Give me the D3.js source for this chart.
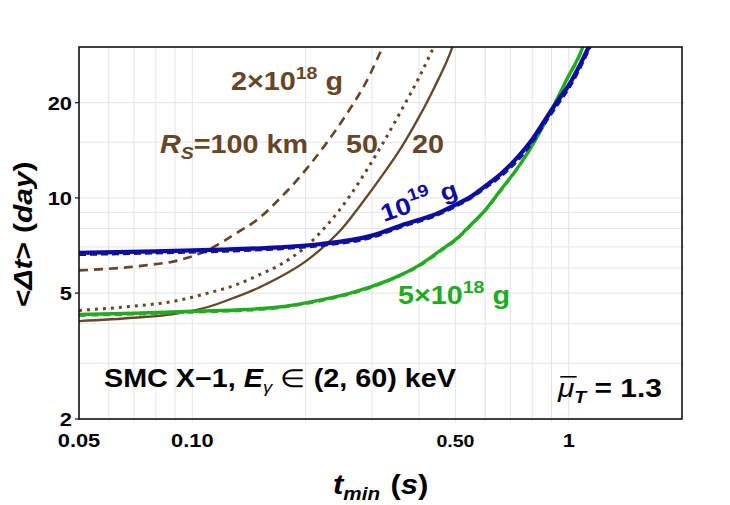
<!DOCTYPE html>
<html>
<head>
<meta charset="UTF-8">
<script src="https://cdnjs.cloudflare.com/ajax/libs/d3/7.8.5/d3.min.js"></script>
<style>
  body { margin: 0; background: #fff; }
  text { font-family: "Liberation Sans", Arial, sans-serif; font-weight: bold; }
</style>
</head>
<body>
<svg id="chart" width="730" height="505"></svg>
<script>
// axis ticks and grid
const xTicks = [0.05, 0.1, 0.5, 1];
const xTickLabels = ["0.05", "0.10", "0.50", "1"];
const yTicks = [2, 5, 10, 20];
const yTickLabels = ["2", "5", "10", "20"];
const xGrid = [0.06, 0.07, 0.08, 0.09, 0.1, 0.2, 0.3, 0.4, 0.5, 0.6, 0.7, 0.8, 0.9, 1];
const yGrid = [3, 4, 5, 6, 7, 8, 9, 10, 15, 20];

// 2e18 g curves, R_S = 100 / 50 / 20 km  [t_min (s), <dt> (day)]
const rs100 = [[0.05,5.9],[0.075,6.12],[0.092,6.35],[0.111,6.88],[0.13,7.7],[0.15,8.6],[0.17,9.9],
  [0.19,11.4],[0.206,12.8],[0.23,15.2],[0.263,19.2],[0.29,23.3],[0.32,29.8],[0.33,32]];
const rs50 = [[0.05,4.41],[0.07,4.55],[0.09,4.72],[0.11,5.0],[0.13,5.3],[0.15,5.7],[0.17,6.12],
  [0.2,7.0],[0.23,8.3],[0.26,10.0],[0.29,12.2],[0.32,14.8],[0.36,19.0],[0.4,24.0],[0.437,29.8],[0.45,32]];
const rs20 = [[0.05,4.08],[0.07,4.18],[0.09,4.3],[0.11,4.52],[0.13,4.85],[0.15,5.2],[0.17,5.6],
  [0.2,6.3],[0.22,6.9],[0.25,8.0],[0.28,9.5],[0.32,11.8],[0.36,14.5],[0.4,18.0],[0.44,22.4],[0.49,29.8],[0.5,32]];
// 1e19 g
const m19 = [[0.05,6.7],[0.08,6.78],[0.12,6.86],[0.17,6.98],[0.22,7.15],[0.3,7.6],[0.36,8.2],[0.45,8.95],
  [0.5,9.5],[0.55,10.1],[0.6,10.9],[0.66,11.9],[0.73,13.4],[0.8,15.3],[0.88,18.2],[0.95,20.8],
  [1.0,22.7],[1.06,25.7],[1.13,30],[1.16,32]];
const m19b = [[0.05,6.62],[0.08,6.7],[0.12,6.78],[0.17,6.9],[0.22,7.07],[0.3,7.5],[0.36,8.1],[0.45,8.85],
  [0.5,9.4],[0.55,10.0],[0.6,10.75],[0.66,11.7],[0.73,13.1],[0.8,15.0],[0.88,17.8],[0.95,20.3],
  [1.0,22.2],[1.06,25.1],[1.14,30],[1.17,32]];
// 5e18 g
const m5 = [[0.05,4.28],[0.07,4.32],[0.1,4.38],[0.14,4.44],[0.17,4.52],[0.2,4.66],[0.263,5.0],[0.3,5.25],
  [0.357,5.7],[0.4,6.12],[0.464,6.92],[0.505,7.45],[0.548,8.2],[0.6,9.15],[0.66,10.6],[0.73,12.4],
  [0.79,14.3],[0.88,18.0],[0.99,23.8],[1.09,30],[1.11,32]];
const m5b = [[0.05,4.24],[0.07,4.28],[0.1,4.34],[0.14,4.4],[0.17,4.48],[0.2,4.62],[0.263,4.96],[0.3,5.21],
  [0.357,5.66],[0.4,6.07],[0.464,6.86],[0.505,7.39],[0.548,8.13],[0.6,9.07],[0.66,10.5],[0.73,12.3],
  [0.79,14.2],[0.88,17.9],[0.99,23.6],[1.09,29.8],[1.11,32]];

const brown = "#654628", blue = "#0c0ca2", green = "#1fab1f";
const SX = 1.15; // the reference glyphs are wider than Liberation Sans

const svg = d3.select("#chart");
const L = 79, R = 682, T = 47, B = 419;
const x = d3.scaleLog().domain([0.05, 2]).range([L, R]);
const y = d3.scaleLog().domain([2, 30]).range([B, T]);

// text placed at (px,py), optionally rotated, stretched horizontally
function label(px, py, rot, size) {
  return svg.append("text")
    .attr("transform", `translate(${px},${py}) rotate(${rot || 0}) scale(${SX},1)`)
    .attr("font-size", size);
}

svg.append("clipPath").attr("id", "clip")
  .append("rect").attr("x", L).attr("y", T).attr("width", R - L).attr("height", B - T);

// grid
svg.append("g").selectAll("line").data(xGrid).join("line")
  .attr("x1", d => x(d)).attr("x2", d => x(d)).attr("y1", T).attr("y2", B + 3)
  .attr("stroke", "#e4e4e4").attr("stroke-width", 1);
svg.append("g").selectAll("line").data(yGrid).join("line")
  .attr("x1", L).attr("x2", R + 3).attr("y1", d => y(d)).attr("y2", d => y(d))
  .attr("stroke", "#e4e4e4").attr("stroke-width", 1);

// curves
const line = d3.line().x(d => x(d[0])).y(d => y(d[1])).curve(d3.curveMonotoneX);
const g = svg.append("g").attr("clip-path", "url(#clip)");
const series = [
  { data: rs100, color: brown, width: 2.6, dash: "9,6" },
  { data: rs50, color: brown, width: 3, dash: "3,5" },
  { data: rs20, color: brown, width: 2.3, dash: null },
  { data: m5, color: green, width: 3.4, dash: null },
  { data: m5b, color: "#2aa82a", width: 2.2, dash: "7,5" },
  { data: m19, color: blue, width: 4.2, dash: null },
  { data: m19b, color: "#10109a", width: 3, dash: "7,4" }
];
g.selectAll("path").data(series).join("path")
  .attr("d", d => line(d.data))
  .attr("fill", "none")
  .attr("stroke", d => d.color)
  .attr("stroke-width", d => d.width)
  .attr("stroke-dasharray", d => d.dash);

// frame
svg.append("rect").attr("x", L).attr("y", T).attr("width", R - L).attr("height", B - T)
  .attr("fill", "none").attr("stroke", "#111").attr("stroke-width", 1.6);

// tick marks + labels
svg.append("g").selectAll("line").data(yTicks).join("line")
  .attr("x1", L - 4).attr("x2", L).attr("y1", d => y(d)).attr("y2", d => y(d))
  .attr("stroke", "#111").attr("stroke-width", 1.2);
yTicks.forEach((d, i) => {
  label(L - 7, y(d) + 7, 0, 19).attr("text-anchor", "end").text(yTickLabels[i]);
});
xTicks.forEach((d, i) => {
  label(x(d), B + 28, 0, xTickLabels[i] === "0.50" ? 17 : 19)
    .attr("text-anchor", "middle").text(xTickLabels[i]);
});

// axis titles
const xt = label(333, 494, 0, 27);
xt.append("tspan").attr("font-style", "italic").text("t");
xt.append("tspan").attr("font-style", "italic").attr("font-size", 18).attr("dy", 6).text("min");
xt.append("tspan").attr("dy", -6).attr("dx", 9).text("(");
xt.append("tspan").attr("font-style", "italic").text("s");
xt.append("tspan").text(")");

const yt = label(32, 307, -90, 26);
yt.append("tspan").text("<");
yt.append("tspan").attr("font-style", "italic").text("Δt");
yt.append("tspan").text(">");
yt.append("tspan").attr("dx", 8).text("(");
yt.append("tspan").attr("font-style", "italic").text("day");
yt.append("tspan").text(")");

// annotations
function massLabel(sel, main, sup, color, gap) {
  sel.attr("fill", color);
  sel.append("tspan").text(main);
  sel.append("tspan").attr("font-size", 17).attr("dy", -11).text(sup);
  sel.append("tspan").attr("dy", 11).attr("dx", gap).text("g");
}
massLabel(label(231, 90, 0, 25), "2×10", "18", brown, 7);
massLabel(label(398, 304, 0, 25), "5×10", "18", green, 7);
massLabel(label(384, 222, -19, 24), "10", "19", blue, 9);

const rs = label(160, 153, 0, 25).attr("fill", brown);
rs.append("tspan").attr("font-style", "italic").text("R");
rs.append("tspan").attr("font-style", "italic").attr("font-size", 17).attr("dy", 6).text("S");
rs.append("tspan").attr("dy", -6).text("=100 km");
label(346, 153, 0, 25).attr("fill", brown).text("50");
label(412, 153, 0, 25).attr("fill", brown).text("20");

const smc = label(104, 387, 0, 25).attr("fill", "#000");
smc.append("tspan").text("SMC X−1, ");
smc.append("tspan").attr("font-style", "italic").text("E");
smc.append("tspan").attr("font-style", "italic").attr("font-weight", "normal").attr("font-size", 16).attr("dy", 6).text("γ");
smc.append("tspan").attr("dy", -6).text(" ");
smc.append("tspan").attr("font-weight", "normal").text("∈");
smc.append("tspan").text(" (2, 60) keV");

const mu = label(558, 397, 0, 26).attr("fill", "#000");
const muChar = mu.append("tspan").attr("font-style", "italic").attr("font-weight", "normal").text("μ");
mu.append("tspan").attr("font-style", "italic").attr("font-size", 17).attr("dy", 6).text("T");
mu.append("tspan").attr("dy", -6).text(" = 1.3");
const mb = muChar.node().getExtentOfChar(0);
svg.append("line")
  .attr("transform", `translate(558,397) scale(${SX},1)`)
  .attr("x1", mb.x + 2).attr("x2", mb.x + mb.width + 2)
  .attr("y1", mb.y + 3).attr("y2", mb.y + 3).attr("stroke", "#000").attr("stroke-width", 1.6);
</script>
</body>
</html>
